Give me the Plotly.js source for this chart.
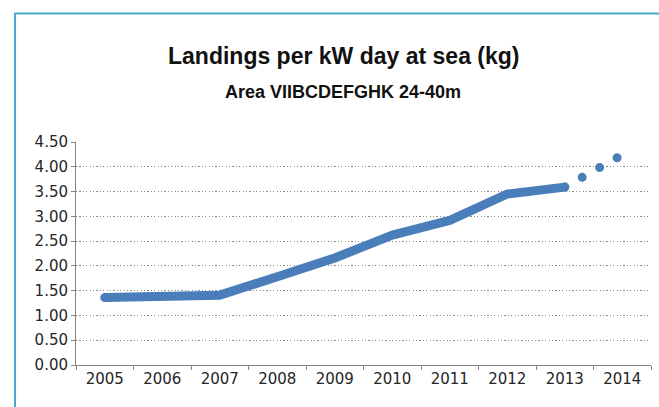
<!DOCTYPE html>
<html>
<head>
<meta charset="utf-8">
<script src="https://cdn.plot.ly/plotly-3.0.1.min.js"></script>
<style>
  html, body { margin: 0; padding: 0; background: #ffffff; }
  #chart { width: 659px; height: 407px; }
  .js-line { stroke-linecap: round !important; stroke-linejoin: round !important; }
</style>
</head>
<body>
<div id="chart"></div>
<script>
// Data
var years = ["2005", "2006", "2007", "2008", "2009", "2010", "2011", "2012", "2013", "2014"];
var landings = [1.36, 1.40, 1.41, 1.78, 2.16, 2.62, 2.92, 3.45, 3.59, 4.24];
var yTicks = [0, 0.5, 1, 1.5, 2, 2.5, 3, 3.5, 4, 4.5];
var titleText = "Landings per kW day at sea (kg)";
var subtitleText = "Area VIIBCDEFGHK 24-40m";

var solidYears = years.slice(0, 9);
var solidVals = landings.slice(0, 9);
var dotYears = years.slice(8);
var dotVals = landings.slice(8);

var lineColor = "#4a7ebb";

var traces = [
  {
    x: solidYears, y: solidVals, type: "scatter", mode: "lines",
    line: { color: lineColor, width: 9 },
    hoverinfo: "skip", showlegend: false
  },
  {
    x: dotYears, y: dotVals, type: "scatter", mode: "lines",
    line: { color: lineColor, width: 9, dash: "0px,20px" },
    hoverinfo: "skip", showlegend: false
  }
];

var tickFont = { family: "DejaVu Sans, sans-serif", size: 15, color: "#262626" };

var layout = {
  width: 659, height: 407,
  margin: { l: 76, r: 8, t: 142, b: 42, pad: 0 },
  paper_bgcolor: "#ffffff",
  plot_bgcolor: "#ffffff",
  showlegend: false,
  xaxis: {
    type: "category",
    categoryorder: "array", categoryarray: years,
    range: [-0.5, years.length - 0.5],
    showgrid: false, zeroline: false,
    showline: true, linecolor: "#868686", linewidth: 1,
    ticks: "outside", ticklen: 4, tickcolor: "#868686", tickwidth: 1,
    tickson: "boundaries",
    tickfont: tickFont,
    fixedrange: true
  },
  yaxis: {
    range: [0, 4.5],
    tickmode: "array", tickvals: yTicks,
    tickformat: ".2f",
    ticksuffix: "\u00a0",
    showgrid: true, gridcolor: "#8a8a8a", gridwidth: 1, griddash: "1.2px,2.2px",
    zeroline: false,
    showline: true, linecolor: "#868686", linewidth: 1,
    ticks: "outside", ticklen: 4, tickcolor: "#868686", tickwidth: 1,
    tickfont: tickFont,
    fixedrange: true
  },
  annotations: [
    {
      text: "<b>" + titleText + "</b>",
      xref: "paper", yref: "paper", x: 0.4652, y: 1.384,
      xanchor: "center", yanchor: "middle", showarrow: false,
      font: { family: "Liberation Sans, Arial, sans-serif", size: 23, color: "#111111" }
    },
    {
      text: "<b>" + subtitleText + "</b>",
      xref: "paper", yref: "paper", x: 0.4635, y: 1.225,
      xanchor: "center", yanchor: "middle", showarrow: false,
      font: { family: "Liberation Sans, Arial, sans-serif", size: 18, color: "#111111" }
    }
  ],
  shapes: [
    {
      type: "rect", xref: "paper", yref: "paper",
      x0: -0.106, x1: 1.2, y0: -0.5, y1: 1.576,
      line: { color: "#46a9cc", width: 2 },
      fillcolor: "rgba(0,0,0,0)", layer: "below"
    }
  ]
};

Plotly.newPlot("chart", traces, layout, { displayModeBar: false, staticPlot: true });
</script>
</body>
</html>
